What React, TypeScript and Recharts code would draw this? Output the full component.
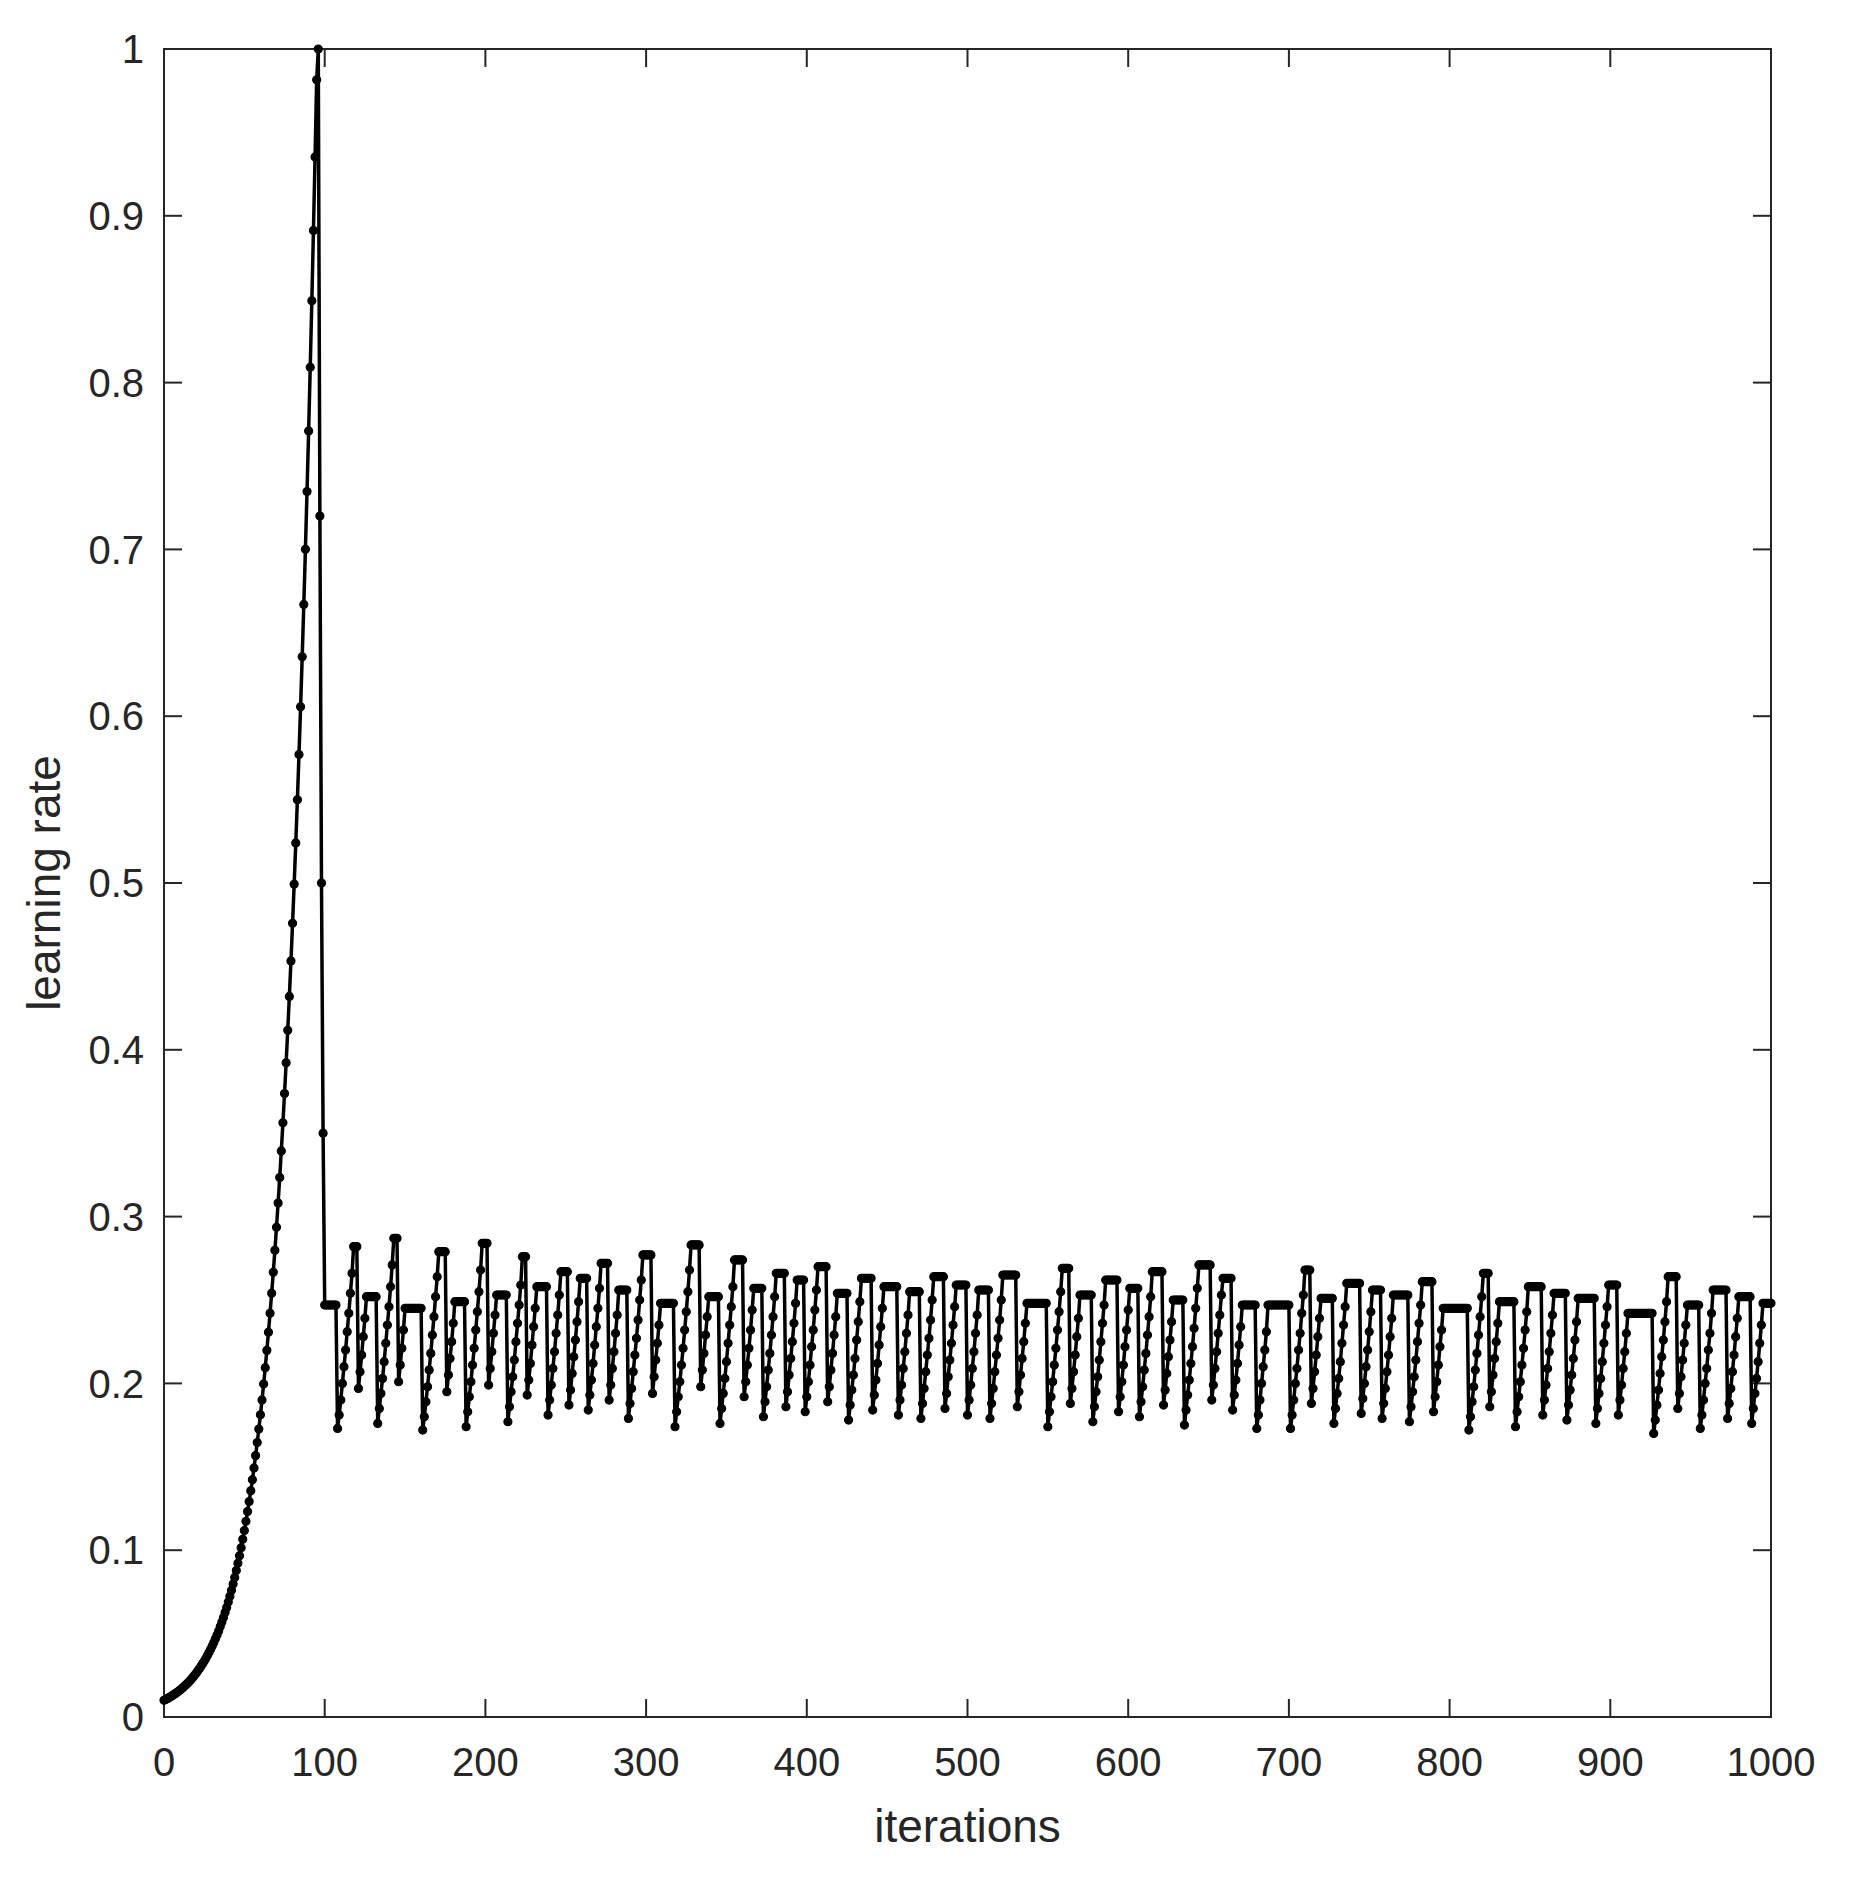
import React from 'react';
import { LineChart, Line, XAxis, YAxis, ReferenceLine, ReferenceArea } from 'recharts';

// warm-up: iterations 0..96, clipped at 1.0
const warmup = [
  0.0100, 0.0105, 0.0110, 0.0116, 0.0121, 0.0127, 0.0134, 0.0140, 0.0147, 0.0154,
  0.0162, 0.0170, 0.0178, 0.0187, 0.0197, 0.0206, 0.0216, 0.0227, 0.0238, 0.0250,
  0.0263, 0.0276, 0.0289, 0.0304, 0.0319, 0.0334, 0.0351, 0.0368, 0.0386, 0.0406,
  0.0426, 0.0447, 0.0469, 0.0492, 0.0516, 0.0542, 0.0569, 0.0597, 0.0626, 0.0657,
  0.0690, 0.0724, 0.0760, 0.0797, 0.0837, 0.0878, 0.0922, 0.0967, 0.1015, 0.1065,
  0.1118, 0.1173, 0.1232, 0.1292, 0.1356, 0.1423, 0.1493, 0.1567, 0.1645, 0.1726,
  0.1812, 0.1901, 0.1996, 0.2094, 0.2198, 0.2307, 0.2421, 0.2541, 0.2666, 0.2798,
  0.2936, 0.3081, 0.3234, 0.3394, 0.3562, 0.3738, 0.3922, 0.4117, 0.4320, 0.4533,
  0.4758, 0.4993, 0.5240, 0.5499, 0.5771, 0.6056, 0.6356, 0.6670, 0.7001, 0.7347,
  0.7710, 0.8092, 0.8491, 0.8912, 0.9353, 0.9815, 1.0,
];

// drop after the peak: iterations 97..99
const decay = [0.72, 0.5, 0.35];

// from iteration 100: each ramp climbs to a plateau, held for holds[i] extra iterations
const ramps = [
  [0.247],
  [0.173, 0.181, 0.190, 0.200, 0.210, 0.220, 0.231, 0.242, 0.254, 0.266, 0.282],
  [0.197, 0.207, 0.217, 0.228, 0.239, 0.252],
  [0.176, 0.185, 0.194, 0.203, 0.213, 0.224, 0.235, 0.246, 0.258, 0.271, 0.287],
  [0.201, 0.211, 0.221, 0.232, 0.245],
  [0.172, 0.180, 0.189, 0.198, 0.208, 0.218, 0.229, 0.240, 0.252, 0.264, 0.279],
  [0.195, 0.205, 0.215, 0.225, 0.236, 0.249],
  [0.174, 0.183, 0.192, 0.201, 0.211, 0.221, 0.232, 0.243, 0.255, 0.268, 0.284],
  [0.199, 0.209, 0.219, 0.230, 0.241, 0.253],
  [0.177, 0.186, 0.195, 0.204, 0.214, 0.225, 0.236, 0.247, 0.259, 0.276],
  [0.193, 0.202, 0.212, 0.223, 0.234, 0.245, 0.258],
  [0.181, 0.190, 0.199, 0.209, 0.219, 0.230, 0.241, 0.253, 0.267],
  [0.187, 0.196, 0.206, 0.216, 0.226, 0.237, 0.249, 0.263],
  [0.184, 0.193, 0.202, 0.212, 0.223, 0.234, 0.245, 0.257, 0.272],
  [0.190, 0.199, 0.209, 0.219, 0.230, 0.241, 0.256],
  [0.179, 0.188, 0.197, 0.207, 0.217, 0.227, 0.238, 0.250, 0.262, 0.277],
  [0.194, 0.204, 0.214, 0.224, 0.235, 0.248],
  [0.174, 0.183, 0.192, 0.201, 0.211, 0.221, 0.232, 0.243, 0.255, 0.268, 0.283],
  [0.198, 0.208, 0.218, 0.229, 0.240, 0.252],
  [0.176, 0.185, 0.194, 0.203, 0.213, 0.224, 0.235, 0.246, 0.258, 0.274],
  [0.192, 0.201, 0.211, 0.221, 0.232, 0.244, 0.257],
  [0.180, 0.189, 0.198, 0.208, 0.218, 0.229, 0.240, 0.252, 0.266],
  [0.186, 0.195, 0.205, 0.215, 0.225, 0.236, 0.248, 0.262],
  [0.183, 0.192, 0.201, 0.211, 0.222, 0.232, 0.244, 0.256, 0.270],
  [0.189, 0.198, 0.208, 0.218, 0.229, 0.240, 0.254],
  [0.178, 0.187, 0.196, 0.205, 0.215, 0.226, 0.237, 0.249, 0.263],
  [0.184, 0.193, 0.202, 0.212, 0.223, 0.234, 0.245, 0.258],
  [0.181, 0.190, 0.199, 0.209, 0.219, 0.230, 0.241, 0.255],
  [0.179, 0.188, 0.197, 0.207, 0.217, 0.227, 0.238, 0.250, 0.264],
  [0.185, 0.194, 0.204, 0.214, 0.224, 0.235, 0.246, 0.259],
  [0.181, 0.190, 0.199, 0.209, 0.219, 0.230, 0.241, 0.256],
  [0.179, 0.188, 0.197, 0.207, 0.217, 0.227, 0.238, 0.250, 0.265],
  [0.186, 0.195, 0.205, 0.215, 0.225, 0.236, 0.248],
  [0.174, 0.183, 0.192, 0.201, 0.211, 0.221, 0.232, 0.243, 0.255, 0.269],
  [0.188, 0.197, 0.207, 0.217, 0.228, 0.239, 0.253],
  [0.177, 0.186, 0.195, 0.204, 0.214, 0.225, 0.236, 0.247, 0.262],
  [0.183, 0.192, 0.201, 0.211, 0.222, 0.232, 0.244, 0.257],
  [0.180, 0.189, 0.198, 0.208, 0.218, 0.229, 0.240, 0.252, 0.267],
  [0.187, 0.196, 0.206, 0.216, 0.226, 0.237, 0.250],
  [0.175, 0.184, 0.193, 0.202, 0.212, 0.222, 0.233, 0.245, 0.257, 0.271],
  [0.190, 0.199, 0.209, 0.219, 0.230, 0.241, 0.253, 0.263],
  [0.184, 0.193, 0.202, 0.212, 0.223, 0.234, 0.247],
  [0.173, 0.181, 0.190, 0.200, 0.210, 0.220, 0.231, 0.247],
  [0.173, 0.181, 0.190, 0.200, 0.209, 0.220, 0.230, 0.242, 0.253, 0.268],
  [0.188, 0.197, 0.207, 0.217, 0.228, 0.239, 0.251],
  [0.176, 0.185, 0.194, 0.203, 0.213, 0.224, 0.235, 0.246, 0.260],
  [0.182, 0.191, 0.200, 0.210, 0.220, 0.231, 0.243, 0.256],
  [0.179, 0.188, 0.197, 0.207, 0.217, 0.228, 0.239, 0.253],
  [0.177, 0.186, 0.195, 0.204, 0.214, 0.225, 0.236, 0.247, 0.261],
  [0.183, 0.192, 0.201, 0.211, 0.222, 0.232, 0.245],
  [0.172, 0.180, 0.189, 0.198, 0.208, 0.218, 0.229, 0.240, 0.252, 0.266],
  [0.186, 0.195, 0.205, 0.215, 0.225, 0.236, 0.249],
  [0.174, 0.183, 0.192, 0.201, 0.211, 0.221, 0.232, 0.243, 0.258],
  [0.181, 0.190, 0.199, 0.209, 0.219, 0.230, 0.241, 0.254],
  [0.178, 0.187, 0.196, 0.205, 0.215, 0.226, 0.237, 0.251],
  [0.176, 0.185, 0.194, 0.203, 0.213, 0.224, 0.235, 0.246, 0.259],
  [0.181, 0.190, 0.199, 0.209, 0.219, 0.230, 0.242],
  [0.170, 0.178, 0.187, 0.196, 0.206, 0.216, 0.226, 0.237, 0.249, 0.264],
  [0.185, 0.194, 0.204, 0.214, 0.224, 0.235, 0.247],
  [0.173, 0.181, 0.190, 0.200, 0.209, 0.220, 0.230, 0.242, 0.256],
  [0.179, 0.188, 0.197, 0.207, 0.217, 0.228, 0.239, 0.252],
  [0.176, 0.185, 0.194, 0.203, 0.213, 0.224, 0.235, 0.248],
];

const holds = [
  7, 2, 6, 2, 10, 4, 6, 3, 6, 2, 6, 4, 4, 4, 5, 5, 8, 5, 6, 5, 5, 5, 4, 5, 6, 6, 8, 6, 6, 6, 6,
  8, 12, 4, 7, 7, 5, 6, 6, 7, 5, 8, 13, 3, 7, 8, 5, 9, 6, 15, 3, 9, 8, 7, 10, 5, 15, 5, 7, 8, 7, 5,
];

const xTicks = [0, 100, 200, 300, 400, 500, 600, 700, 800, 900, 1000];
const yTicks = [0, 0.1, 0.2, 0.3, 0.4, 0.5, 0.6, 0.7, 0.8, 0.9, 1];

const series: number[] = [...warmup, ...decay];
ramps.forEach((r, i) => {
  series.push(...r);
  for (let k = 0; k < holds[i]; k++) series.push(r[r.length - 1]);
});
const data = series.map((lr, it) => ({ it, lr }));

const AXIS = '#262626';
const FONT = '"Liberation Sans", Arial, Helvetica, sans-serif';
// inward tick length, ~18px in data units
const TICK_X = 11.2;
const TICK_Y = 0.0108;

function YTitle({ viewBox }: any) {
  const x = (viewBox?.x ?? 0) + 60;
  const cy = viewBox ? viewBox.y + viewBox.height / 2 : 883;
  return (
    <text x={x} y={cy} transform={`rotate(-90 ${x} ${cy})`} textAnchor="middle"
      fontSize={46} fill={AXIS} fontFamily={FONT}>learning rate</text>
  );
}

export default function App() {
  return (
    <div style={{ position: 'absolute', left: 0, top: 0, width: 1857, height: 1878, background: '#fff' }}>
      <LineChart width={1857} height={1878} data={data} margin={{ top: 49, right: 86, bottom: 0, left: 0 }}>
        <XAxis dataKey="it" type="number" domain={[0, 1000]} ticks={xTicks} interval={0}
          height={161} axisLine={false} tickLine={false} tickSize={0} tickMargin={31}
          tick={{ fontSize: 40, fill: AXIS, fontFamily: FONT }}
          label={{ value: 'iterations', position: 'insideBottom', offset: 36, fontSize: 46, fill: AXIS, fontFamily: FONT }} />
        <YAxis type="number" domain={[0, 1]} ticks={yTicks} interval={0} width={164}
          axisLine={false} tickLine={false} tickSize={0} tickMargin={20}
          tick={{ fontSize: 40, fill: AXIS, fontFamily: FONT }}
          label={<YTitle />} />
        <ReferenceArea x1={0} x2={1000} y1={0} y2={1} fill="none" fillOpacity={0} stroke={AXIS} strokeWidth={2} />
        {xTicks.slice(1, -1).map(t => (
          <ReferenceLine key={'xb' + t} segment={[{ x: t, y: 0 }, { x: t, y: TICK_Y }]} stroke={AXIS} strokeWidth={2} />
        ))}
        {xTicks.slice(1, -1).map(t => (
          <ReferenceLine key={'xt' + t} segment={[{ x: t, y: 1 }, { x: t, y: 1 - TICK_Y }]} stroke={AXIS} strokeWidth={2} />
        ))}
        {yTicks.slice(1, -1).map(t => (
          <ReferenceLine key={'yl' + t} segment={[{ x: 0, y: t }, { x: TICK_X, y: t }]} stroke={AXIS} strokeWidth={2} />
        ))}
        {yTicks.slice(1, -1).map(t => (
          <ReferenceLine key={'yr' + t} segment={[{ x: 1000, y: t }, { x: 1000 - TICK_X, y: t }]} stroke={AXIS} strokeWidth={2} />
        ))}
        <Line dataKey="lr" type="linear" stroke="#000" strokeWidth={3.5}
          dot={{ r: 4, fill: '#000', stroke: '#000', strokeWidth: 1.2 }}
          activeDot={false} isAnimationActive={false} />
      </LineChart>
    </div>
  );
}
